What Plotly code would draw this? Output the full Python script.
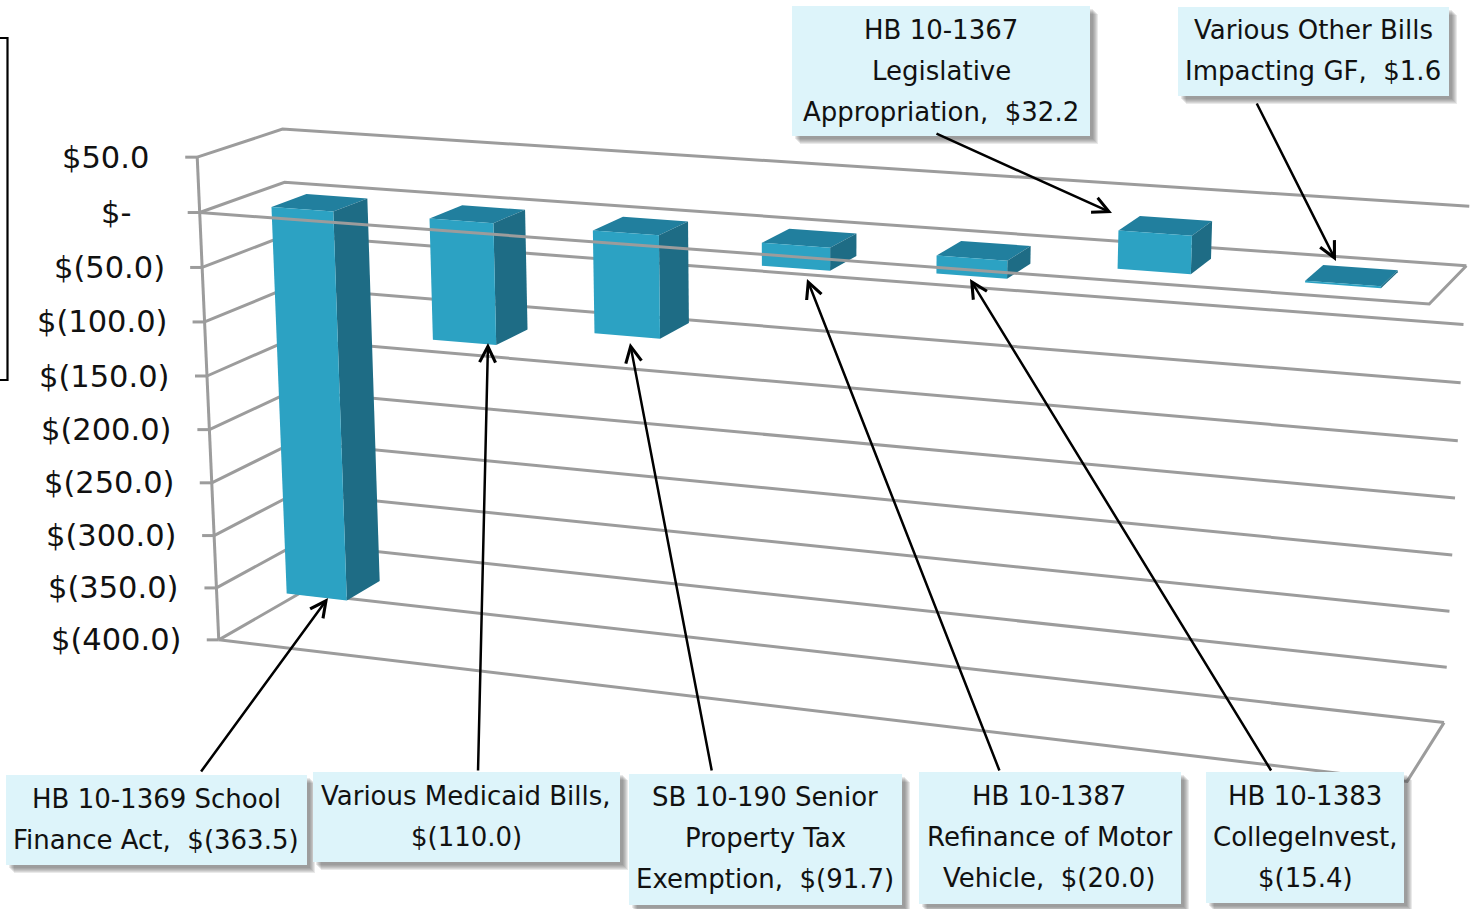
import numpy as np
import plotly.graph_objects as go

# ---------- data ----------
bill_values = [-363.5, -110.0, -91.7, -20.0, -15.4, 32.2, 1.6]
axis_values = [50, 0, -50, -100, -150, -200, -250, -300, -350, -400]
axis_labels = ["$50.0", "$-", "$(50.0)", "$(100.0)", "$(150.0)", "$(200.0)",
               "$(250.0)", "$(300.0)", "$(350.0)", "$(400.0)"]
callout_a = ["HB 10-1369 School", "Finance Act,  $(363.5)"]
callout_b = ["Various Medicaid Bills,", "$(110.0)"]
callout_c = ["SB 10-190 Senior", "Property Tax", "Exemption,  $(91.7)"]
callout_d = ["HB 10-1387", "Refinance of Motor", "Vehicle,  $(20.0)"]
callout_e = ["HB 10-1383", "CollegeInvest,", "$(15.4)"]
callout_f = ["HB 10-1367", "Legislative", "Appropriation,  $32.2"]
callout_g = ["Various Other Bills", "Impacting GF,  $1.6"]

# ---------- 3D view: (category 0-1, value, depth 0-1) seen on the page ----------
view_world = [(0, 0, 0), (1, 0, 0), (0, 0, 1), (1, 0, 1),
              (0, -400, 0), (1, -400, 0), (0, -400, 1), (1, -400, 1),
              (0, 50, 0), (0, 50, 1), (1, 50, 1)]
view_page = [(200, 212), (1430, 304), (285, 183), (1466, 265),
             (219, 640), (1406, 782), (300, 593), (1445, 722),
             (197, 157), (282, 129), (1469, 207)]


def fit_view(world, page):
    rows = []
    for (u, v, d), (x, y) in zip(world, page):
        w = [u, v / 400.0, d, 1.0]
        x, y = x / 1000.0, y / 1000.0
        rows.append(w + [0, 0, 0, 0] + [-x * c for c in w])
        rows.append([0, 0, 0, 0] + w + [-y * c for c in w])
    return np.linalg.svd(np.array(rows))[2][-1].reshape(3, 4)


VIEW = fit_view(view_world, view_page)


def project(u, v, d):
    p = VIEW @ np.array([u, v / 400.0, d, 1.0])
    return 1000 * p[0] / p[2], 1000 * p[1] / p[2]


GRID = "#9c9c9c"
GRID_W = 3
BAR_LO, BAR_HI = 0.30, 0.695
DEPTH_LO, DEPTH_HI = 0.29, 0.71
FRONT, SIDE, TOP = "#2CA2C3", "#1E6C85", "#217F9E"

fig = go.Figure()


def poly(points, color):
    fig.add_trace(go.Scatter(x=[p[0] for p in points] + [points[0][0]],
                             y=[p[1] for p in points] + [points[0][1]],
                             mode="none", fill="toself", fillcolor=color,
                             hoverinfo="skip", showlegend=False))


def path(points):
    fig.add_trace(go.Scatter(x=[p[0] for p in points], y=[p[1] for p in points],
                             mode="lines", line=dict(color=GRID, width=GRID_W),
                             hoverinfo="skip", showlegend=False))


# walls: gridlines behind the bars
for val in axis_values:
    path([project(0, val, 0), project(0, val, 1), project(1, val, 1)])
path([project(0, 50, 0), project(0, -400, 0)])
for val in axis_values:
    x, y = project(0, val, 0)
    path([(x - 12, y), (x, y)])
path([project(0, -400, 0), project(1, -400, 0), project(1, -400, 1)])

# bars
n = len(bill_values)
for i, val in enumerate(bill_values):
    u0, u1 = (i + BAR_LO) / n, (i + BAR_HI) / n
    hi, lo = max(val, 0), min(val, 0)
    poly([project(u0, hi, DEPTH_HI), project(u1, hi, DEPTH_HI),
          project(u1, hi, DEPTH_LO), project(u0, hi, DEPTH_LO)], TOP)
    poly([project(u1, hi, DEPTH_LO), project(u1, hi, DEPTH_HI),
          project(u1, lo, DEPTH_HI), project(u1, lo, DEPTH_LO)], SIDE)
    poly([project(u0, hi, DEPTH_LO), project(u1, hi, DEPTH_LO),
          project(u1, lo, DEPTH_LO), project(u0, lo, DEPTH_LO)], FRONT)

# zero-plane outline, in front of the bars
path([project(0, 0, 0), project(1, 0, 0), project(1, 0, 1)])

annotations = []
FONT = "DejaVu Sans"

# value axis labels
for val, lab in zip(axis_values, axis_labels):
    x, y = project(0, val, 0)
    pad = 55 if lab == "$-" else (34 if "(" not in lab else 23)
    annotations.append(dict(x=x - 12 - pad, y=y, xref="x", yref="y", text=lab,
                            showarrow=False, xanchor="right", yanchor="middle",
                            font=dict(family=FONT, size=30.5, color="#111111")))

# call-out boxes
box_rects = [(6, 775, 307, 865), (313, 772, 620, 862), (629, 774, 902, 905),
             (919, 772, 1181, 904), (1206, 772, 1404, 903),
             (792, 6, 1090, 136), (1178, 7, 1449, 96)]
box_text = [callout_a, callout_b, callout_c, callout_d, callout_e, callout_f, callout_g]
box_first_line = [799, 796, 797, 796, 796, 30, 30]
box_center = [156, 466, 765, 1049, 1305, 941, 1313]
LINE_STEP = 41

shapes = []
for (x0, y0, x1, y1) in box_rects:
    for k in (8, 7, 6, 5, 4, 3):
        shapes.append(dict(type="rect", xref="x", yref="y", layer="above",
                           x0=x0 + k, y0=y0 + k, x1=x1 + k, y1=y1 + k,
                           fillcolor="#555555", opacity=0.13, line_width=0))
    shapes.append(dict(type="rect", xref="x", yref="y", layer="above",
                       x0=x0, y0=y0, x1=x1, y1=y1, fillcolor="#DDF4FA", line_width=0))
for lines, cx, y0 in zip(box_text, box_center, box_first_line):
    for j, line in enumerate(lines):
        annotations.append(dict(x=cx, y=y0 + j * LINE_STEP, xref="x", yref="y",
                                text=line.replace("  ", "\u00a0\u00a0"),
                                showarrow=False, xanchor="center", yanchor="middle",
                                font=dict(family=FONT, size=26, color="#111111")))

# leader arrows (tail, head)
arrow_tail = [(200, 773), (478, 772), (712, 772), (1000, 772), (1272, 772), (935, 133), (1256, 102)]
arrow_head = [(328, 598), (488, 343), (630, 343), (807, 279), (970, 279), (1112, 213), (1336, 261)]
for (tx, ty), (hx, hy) in zip(arrow_tail, arrow_head):
    annotations.append(dict(x=hx, y=hy, ax=tx, ay=ty, xref="x", yref="y",
                            axref="x", ayref="y", text="", showarrow=True,
                            arrowhead=5, arrowsize=1.25, arrowwidth=2.5,
                            arrowcolor="#000000", standoff=0))

# cropped frame at the left edge
shapes.append(dict(type="path", xref="x", yref="y", layer="above",
                   path="M -2 38 L 7.5 38 L 7.5 380 L -2 380",
                   line=dict(color="#000000", width=2.2)))

fig.update_layout(width=1470, height=909, autosize=False,
                  margin=dict(l=0, r=0, t=0, b=0),
                  paper_bgcolor="white", plot_bgcolor="white", showlegend=False,
                  xaxis=dict(range=[0, 1470], visible=False, fixedrange=True),
                  yaxis=dict(range=[909, 0], visible=False, fixedrange=True),
                  shapes=shapes, annotations=annotations)

fig.write_html("out.html", config=dict(displayModeBar=False),
               post_script="document.body.style.margin='0';document.body.style.overflow='hidden';")
